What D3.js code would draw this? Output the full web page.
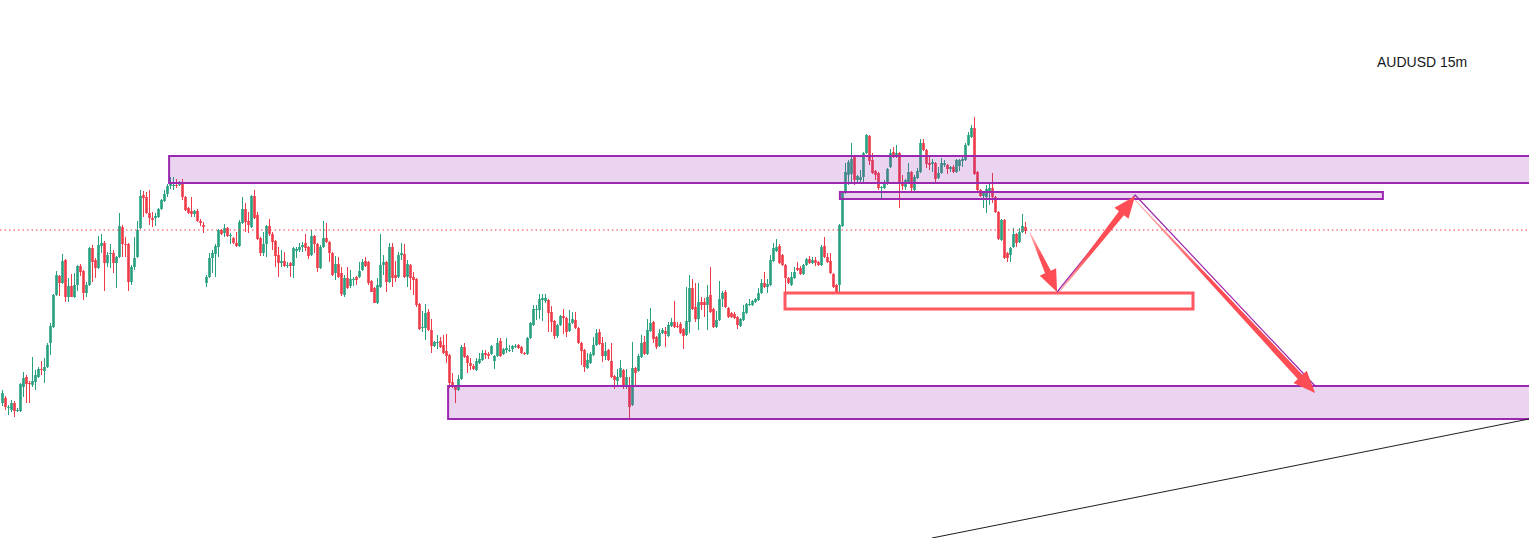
<!DOCTYPE html>
<html>
<head>
<meta charset="utf-8">
<script src="https://cdn.jsdelivr.net/npm/d3@7/dist/d3.min.js"></script>
<style>
html, body { margin: 0; padding: 0; background: #fff; overflow: hidden; }
#chart { width: 1529px; height: 538px; }
</style>
</head>
<body>
<div id="chart"><svg width="1529" height="538"></svg></div>
<script>
var symbolLabel = "AUDUSD 15m";

// AUDUSD 15m candles
var opens = [
0.66597,0.66602,0.66592,0.66590,0.66597,0.66589,0.66589,0.66613,0.66623,0.66617,
0.66615,0.66618,0.66623,0.66631,0.66629,0.66633,0.66657,0.66673,0.66705,0.66724,
0.66717,0.66740,0.66703,0.66714,0.66703,0.66715,0.66734,0.66729,0.66707,0.66715,
0.66752,0.66740,0.66732,0.66754,0.66757,0.66737,0.66746,0.66747,0.66737,0.66743,
0.66773,0.66756,0.66756,0.66718,0.66733,0.66743,0.66772,0.66805,0.66803,0.66787,
0.66782,0.66782,0.66783,0.66791,0.66799,0.66806,0.66814,0.66814,0.66815,0.66815,
0.66818,0.66803,0.66792,0.66789,0.66786,0.66789,0.66779,0.66775,0.66717,0.66723,
0.66742,0.66746,0.66753,0.66770,0.66767,0.66772,0.66764,0.66762,0.66757,0.66754,
0.66777,0.66791,0.66779,0.66773,0.66804,0.66785,0.66762,0.66747,0.66756,0.66774,
0.66766,0.66759,0.66745,0.66737,0.66739,0.66734,0.66737,0.66734,0.66749,0.66750,
0.66753,0.66757,0.66753,0.66745,0.66764,0.66756,0.66732,0.66753,0.66762,0.66758,
0.66747,0.66727,0.66736,0.66727,0.66705,0.66722,0.66714,0.66720,0.66723,0.66723,
0.66730,0.66739,0.66738,0.66719,0.66712,0.66697,0.66713,0.66735,0.66738,0.66718,
0.66753,0.66725,0.66723,0.66745,0.66746,0.66723,0.66735,0.66723,0.66721,0.66696,
0.66672,0.66672,0.66688,0.66670,0.66654,0.66657,0.66659,0.66655,0.66649,0.66645,
0.66618,0.66613,0.66610,0.66621,0.66653,0.66644,0.66637,0.66634,0.66630,0.66637,
0.66640,0.66647,0.66646,0.66646,0.66639,0.66644,0.66659,0.66646,0.66650,0.66649,
0.66651,0.66653,0.66655,0.66653,0.66647,0.66646,0.66662,0.66675,0.66690,0.66690,
0.66700,0.66699,0.66700,0.66688,0.66679,0.66664,0.66675,0.66684,0.66682,0.66669,
0.66677,0.66680,0.66672,0.66657,0.66650,0.66632,0.66637,0.66645,0.66655,0.66668,
0.66657,0.66644,0.66650,0.66639,0.66624,0.66619,0.66623,0.66630,0.66613,0.66615,
0.66595,0.66632,0.66629,0.66643,0.66658,0.66646,0.66669,0.66678,0.66663,0.66654,
0.66667,0.66669,0.66664,0.66674,0.66678,0.66674,0.66676,0.66671,0.66665,0.66678,
0.66712,0.66693,0.66681,0.66698,0.66698,0.66695,0.66705,0.66691,0.66673,0.66680,
0.66701,0.66708,0.66692,0.66687,0.66686,0.66683,0.66674,0.66680,0.66687,0.66695,
0.66695,0.66698,0.66700,0.66707,0.66717,0.66713,0.66715,0.66739,0.66749,0.66754,
0.66745,0.66735,0.66722,0.66715,0.66722,0.66732,0.66732,0.66726,0.66735,0.66741,
0.66737,0.66740,0.66738,0.66735,0.66754,0.66743,0.66739,0.66726,0.66715,0.66715,
0.66774,0.66807,0.66825,0.66826,0.66844,0.66820,0.66820,0.66823,0.66847,0.66864,
0.66840,0.66829,0.66827,0.66812,0.66812,0.66816,0.66833,0.66848,0.66843,0.66847,
0.66818,0.66813,0.66817,0.66828,0.66810,0.66822,0.66828,0.66857,0.66850,0.66837,
0.66836,0.66837,0.66822,0.66827,0.66835,0.66835,0.66831,0.66833,0.66828,0.66834,
0.66839,0.66840,0.66855,0.66863,0.66872,0.66828,0.66810,0.66804,0.66803,0.66807,
0.66812,0.66803,0.66788,0.66760,0.66780,0.66747,0.66745,0.66753,0.66766,0.66758,
0.66768,0.66773
];
var highs = [
0.66610,0.66604,0.66595,0.66600,0.66599,0.66592,0.66617,0.66628,0.66625,0.66619,
0.66643,0.66630,0.66633,0.66639,0.66642,0.66657,0.66677,0.66706,0.66729,0.66725,
0.66746,0.66741,0.66722,0.66726,0.66727,0.66735,0.66736,0.66730,0.66718,0.66753,
0.66755,0.66742,0.66764,0.66766,0.66759,0.66748,0.66756,0.66750,0.66744,0.66787,
0.66775,0.66763,0.66757,0.66735,0.66763,0.66779,0.66810,0.66809,0.66808,0.66810,
0.66788,0.66787,0.66792,0.66801,0.66810,0.66816,0.66823,0.66823,0.66821,0.66819,
0.66821,0.66804,0.66793,0.66803,0.66790,0.66791,0.66781,0.66778,0.66725,0.66747,
0.66750,0.66756,0.66771,0.66771,0.66776,0.66773,0.66767,0.66763,0.66768,0.66780,
0.66803,0.66797,0.66788,0.66805,0.66810,0.66788,0.66763,0.66768,0.66775,0.66781,
0.66768,0.66760,0.66753,0.66750,0.66748,0.66738,0.66738,0.66753,0.66753,0.66757,
0.66758,0.66766,0.66754,0.66770,0.66765,0.66757,0.66755,0.66779,0.66777,0.66759,
0.66748,0.66744,0.66743,0.66733,0.66725,0.66733,0.66730,0.66723,0.66724,0.66738,
0.66741,0.66743,0.66739,0.66720,0.66713,0.66722,0.66766,0.66745,0.66739,0.66757,
0.66757,0.66739,0.66748,0.66757,0.66756,0.66740,0.66736,0.66728,0.66722,0.66697,
0.66689,0.66696,0.66691,0.66681,0.66659,0.66665,0.66663,0.66665,0.66666,0.66646,
0.66627,0.66615,0.66625,0.66655,0.66657,0.66645,0.66642,0.66636,0.66642,0.66647,
0.66650,0.66650,0.66648,0.66655,0.66645,0.66662,0.66662,0.66652,0.66662,0.66655,
0.66655,0.66656,0.66656,0.66654,0.66648,0.66663,0.66678,0.66695,0.66695,0.66706,
0.66706,0.66706,0.66701,0.66694,0.66680,0.66676,0.66685,0.66691,0.66683,0.66690,
0.66688,0.66688,0.66673,0.66658,0.66651,0.66647,0.66648,0.66663,0.66671,0.66671,
0.66663,0.66658,0.66651,0.66657,0.66625,0.66631,0.66640,0.66631,0.66631,0.66623,
0.66658,0.66633,0.66646,0.66665,0.66664,0.66681,0.66692,0.66679,0.66664,0.66671,
0.66672,0.66673,0.66678,0.66682,0.66699,0.66678,0.66678,0.66672,0.66713,0.66725,
0.66721,0.66717,0.66717,0.66703,0.66702,0.66715,0.66733,0.66692,0.66689,0.66719,
0.66709,0.66710,0.66693,0.66688,0.66688,0.66684,0.66682,0.66695,0.66697,0.66701,
0.66700,0.66702,0.66712,0.66721,0.66728,0.66721,0.66745,0.66757,0.66761,0.66756,
0.66746,0.66736,0.66723,0.66728,0.66733,0.66738,0.66734,0.66736,0.66742,0.66744,
0.66743,0.66743,0.66739,0.66755,0.66763,0.66747,0.66747,0.66727,0.66716,0.66776,
0.66808,0.66837,0.66840,0.66857,0.66845,0.66825,0.66830,0.66848,0.66866,0.66865,
0.66847,0.66830,0.66828,0.66814,0.66820,0.66832,0.66851,0.66853,0.66855,0.66848,
0.66825,0.66821,0.66837,0.66829,0.66825,0.66832,0.66861,0.66861,0.66851,0.66843,
0.66841,0.66838,0.66833,0.66842,0.66840,0.66836,0.66834,0.66835,0.66841,0.66841,
0.66843,0.66857,0.66868,0.66875,0.66883,0.66829,0.66811,0.66809,0.66815,0.66816,
0.66827,0.66804,0.66789,0.66781,0.66781,0.66748,0.66753,0.66772,0.66767,0.66772,
0.66786,0.66778
];
var lows = [
0.66594,0.66590,0.66585,0.66588,0.66583,0.66588,0.66588,0.66603,0.66597,0.66597,
0.66613,0.66610,0.66622,0.66625,0.66617,0.66632,0.66645,0.66672,0.66704,0.66704,
0.66716,0.66698,0.66698,0.66703,0.66702,0.66709,0.66724,0.66700,0.66703,0.66714,
0.66718,0.66722,0.66731,0.66747,0.66709,0.66733,0.66732,0.66727,0.66712,0.66742,
0.66743,0.66743,0.66709,0.66715,0.66730,0.66742,0.66771,0.66783,0.66786,0.66775,
0.66773,0.66774,0.66782,0.66790,0.66798,0.66803,0.66811,0.66810,0.66812,0.66814,
0.66800,0.66789,0.66786,0.66783,0.66783,0.66778,0.66774,0.66767,0.66713,0.66722,
0.66727,0.66723,0.66743,0.66765,0.66763,0.66763,0.66756,0.66756,0.66753,0.66753,
0.66776,0.66768,0.66767,0.66772,0.66781,0.66760,0.66744,0.66744,0.66743,0.66764,
0.66750,0.66733,0.66723,0.66733,0.66733,0.66732,0.66723,0.66722,0.66742,0.66748,
0.66748,0.66749,0.66741,0.66744,0.66747,0.66728,0.66731,0.66752,0.66757,0.66738,
0.66724,0.66720,0.66722,0.66704,0.66703,0.66711,0.66712,0.66714,0.66715,0.66722,
0.66729,0.66733,0.66715,0.66708,0.66697,0.66696,0.66712,0.66725,0.66708,0.66717,
0.66713,0.66718,0.66722,0.66740,0.66722,0.66713,0.66710,0.66705,0.66693,0.66670,
0.66668,0.66660,0.66669,0.66647,0.66653,0.66651,0.66652,0.66646,0.66637,0.66612,
0.66612,0.66597,0.66609,0.66620,0.66642,0.66627,0.66630,0.66630,0.66629,0.66636,
0.66639,0.66641,0.66641,0.66645,0.66631,0.66643,0.66643,0.66645,0.66647,0.66648,
0.66648,0.66652,0.66651,0.66646,0.66645,0.66645,0.66661,0.66674,0.66680,0.66681,
0.66679,0.66697,0.66668,0.66668,0.66661,0.66662,0.66674,0.66666,0.66663,0.66668,
0.66676,0.66671,0.66656,0.66635,0.66628,0.66631,0.66636,0.66644,0.66654,0.66655,
0.66638,0.66640,0.66639,0.66622,0.66611,0.66615,0.66622,0.66611,0.66611,0.66581,
0.66594,0.66615,0.66628,0.66642,0.66645,0.66645,0.66668,0.66657,0.66651,0.66653,
0.66666,0.66653,0.66663,0.66673,0.66672,0.66672,0.66666,0.66651,0.66664,0.66667,
0.66690,0.66678,0.66670,0.66690,0.66683,0.66670,0.66687,0.66672,0.66672,0.66679,
0.66693,0.66692,0.66682,0.66682,0.66681,0.66671,0.66673,0.66679,0.66686,0.66694,
0.66694,0.66697,0.66699,0.66706,0.66712,0.66707,0.66714,0.66738,0.66748,0.66736,
0.66734,0.66708,0.66716,0.66714,0.66721,0.66729,0.66725,0.66725,0.66734,0.66736,
0.66736,0.66734,0.66734,0.66734,0.66742,0.66737,0.66726,0.66712,0.66707,0.66708,
0.66773,0.66806,0.66815,0.66817,0.66815,0.66817,0.66817,0.66817,0.66846,0.66835,
0.66826,0.66820,0.66810,0.66800,0.66811,0.66815,0.66832,0.66842,0.66842,0.66792,
0.66810,0.66810,0.66816,0.66808,0.66809,0.66821,0.66827,0.66849,0.66832,0.66830,
0.66828,0.66817,0.66821,0.66826,0.66833,0.66826,0.66828,0.66827,0.66827,0.66829,
0.66833,0.66839,0.66854,0.66862,0.66825,0.66807,0.66803,0.66792,0.66787,0.66795,
0.66797,0.66787,0.66760,0.66759,0.66741,0.66738,0.66738,0.66752,0.66753,0.66757,
0.66767,0.66766
];
var closes = [
0.66607,0.66593,0.66593,0.66597,0.66589,0.66590,0.66616,0.66622,0.66616,0.66616,
0.66619,0.66625,0.66631,0.66630,0.66633,0.66655,0.66674,0.66705,0.66725,0.66717,
0.66739,0.66703,0.66714,0.66703,0.66715,0.66734,0.66728,0.66707,0.66715,0.66752,
0.66738,0.66732,0.66755,0.66757,0.66737,0.66745,0.66747,0.66737,0.66743,0.66774,
0.66756,0.66755,0.66718,0.66733,0.66742,0.66770,0.66804,0.66802,0.66787,0.66782,
0.66780,0.66784,0.66791,0.66800,0.66806,0.66814,0.66816,0.66815,0.66814,0.66817,
0.66803,0.66790,0.66787,0.66786,0.66789,0.66779,0.66777,0.66773,0.66723,0.66742,
0.66747,0.66754,0.66770,0.66766,0.66772,0.66764,0.66765,0.66757,0.66754,0.66778,
0.66791,0.66778,0.66775,0.66804,0.66782,0.66761,0.66747,0.66756,0.66774,0.66766,
0.66758,0.66744,0.66737,0.66739,0.66734,0.66735,0.66734,0.66752,0.66751,0.66753,
0.66755,0.66752,0.66744,0.66764,0.66756,0.66732,0.66753,0.66762,0.66758,0.66747,
0.66725,0.66736,0.66723,0.66706,0.66722,0.66712,0.66721,0.66721,0.66720,0.66729,
0.66738,0.66734,0.66717,0.66708,0.66697,0.66715,0.66735,0.66738,0.66718,0.66753,
0.66722,0.66722,0.66745,0.66747,0.66723,0.66736,0.66722,0.66720,0.66695,0.66671,
0.66673,0.66687,0.66670,0.66654,0.66658,0.66658,0.66653,0.66647,0.66644,0.66617,
0.66613,0.66610,0.66621,0.66653,0.66643,0.66637,0.66634,0.66631,0.66639,0.66641,
0.66647,0.66645,0.66644,0.66654,0.66644,0.66657,0.66644,0.66651,0.66652,0.66650,
0.66654,0.66654,0.66652,0.66647,0.66646,0.66662,0.66677,0.66691,0.66691,0.66701,
0.66702,0.66702,0.66687,0.66678,0.66664,0.66675,0.66684,0.66682,0.66668,0.66677,
0.66681,0.66672,0.66657,0.66649,0.66633,0.66640,0.66646,0.66655,0.66667,0.66656,
0.66644,0.66649,0.66640,0.66623,0.66620,0.66623,0.66632,0.66613,0.66623,0.66593,
0.66632,0.66627,0.66644,0.66657,0.66646,0.66670,0.66677,0.66661,0.66653,0.66667,
0.66670,0.66666,0.66675,0.66678,0.66673,0.66673,0.66667,0.66664,0.66679,0.66712,
0.66691,0.66681,0.66698,0.66695,0.66695,0.66703,0.66688,0.66673,0.66680,0.66701,
0.66707,0.66693,0.66683,0.66683,0.66682,0.66675,0.66681,0.66688,0.66696,0.66696,
0.66699,0.66701,0.66707,0.66717,0.66713,0.66716,0.66740,0.66752,0.66753,0.66737,
0.66735,0.66722,0.66717,0.66723,0.66728,0.66730,0.66726,0.66735,0.66741,0.66737,
0.66740,0.66737,0.66735,0.66753,0.66743,0.66738,0.66727,0.66713,0.66708,0.66775,
0.66807,0.66828,0.66838,0.66841,0.66820,0.66824,0.66823,0.66847,0.66865,0.66839,
0.66827,0.66825,0.66812,0.66813,0.66817,0.66831,0.66847,0.66843,0.66847,0.66817,
0.66814,0.66820,0.66828,0.66812,0.66823,0.66829,0.66857,0.66850,0.66836,0.66835,
0.66838,0.66821,0.66827,0.66837,0.66837,0.66831,0.66833,0.66828,0.66840,0.66840,
0.66841,0.66855,0.66865,0.66872,0.66826,0.66810,0.66804,0.66808,0.66811,0.66812,
0.66803,0.66788,0.66761,0.66780,0.66742,0.66742,0.66752,0.66766,0.66757,0.66768,
0.66774,0.66769
];

// drawings: bar index (can run past the last bar) and price
var lastPrice = 0.66770;
var zoneStarts = [55.7, 148.7, 279.3];
var zoneEnds = [null, null, 460.3];
var zoneTops = [0.66844, 0.66614, 0.66808];
var zoneBottoms = [0.66817, 0.66581, 0.66801];
var targetBox = [261, 397, 0.66707, 0.66691];
var arrowFrom = [[342.7, 0.66767], [352.4, 0.66708], [377.7, 0.66800]];
var arrowTo = [[351.7, 0.66708], [377.7, 0.66804], [437.7, 0.66607]];
var pathPoints = [[351.7, 0.66708], [377.7, 0.66805], [437.7, 0.66614]];
var trendLine = [[310, 0.66462], [509, 0.66581]];

var CandleChart = (function () {
    function CandleChart(target) {
        this.svg = d3.select(target);
        this.width = +this.svg.attr("width");
        this.height = +this.svg.attr("height");
        this.x = d3.scaleLinear().domain([0, 341]).range([2, 1025]);
        this.y = d3.scaleLinear().domain([0.66462, 0.67]).range([this.height, 0]);
    }
    CandleChart.prototype.render = function () {
        var chart = this, x = this.x, y = this.y, svg = this.svg;
        svg.append("rect").attr("width", chart.width).attr("height", chart.height).style("fill", "#fff");

        var up = "#26a07f", down = "#ef3a47";
        var candles = svg.append("g").selectAll("g").data(d3.range(closes.length)).join("g");
        candles.append("line")
            .attr("x1", function (i) { return Math.round(x(i)) + 0.5; })
            .attr("x2", function (i) { return Math.round(x(i)) + 0.5; })
            .attr("y1", function (i) { return y(highs[i]); })
            .attr("y2", function (i) { return y(lows[i]); })
            .style("stroke", function (i) { return closes[i] >= opens[i] ? up : down; })
            .style("stroke-width", 1);
        candles.append("rect")
            .attr("x", function (i) { return Math.round(x(i)) - 0.8; })
            .attr("width", 2.6)
            .attr("y", function (i) { return y(Math.max(opens[i], closes[i])); })
            .attr("height", function (i) { return Math.max(1, Math.abs(y(opens[i]) - y(closes[i]))); })
            .style("fill", function (i) { return closes[i] >= opens[i] ? up : down; });

        // last price
        svg.append("line").attr("x1", 0).attr("x2", chart.width)
            .attr("y1", y(lastPrice)).attr("y2", y(lastPrice))
            .style("stroke", "#f23645").style("stroke-width", 1).style("stroke-dasharray", "1.5,3");

        // supply / demand zones
        zoneStarts.forEach(function (s, k) {
            var x0 = x(s), x1 = zoneEnds[k] == null ? chart.width + 2 : x(zoneEnds[k]);
            svg.append("rect")
                .attr("x", x0).attr("y", y(zoneTops[k]))
                .attr("width", x1 - x0).attr("height", y(zoneBottoms[k]) - y(zoneTops[k]))
                .style("fill", "rgba(156,39,176,0.2)")
                .style("stroke", "#9c27b0").style("stroke-width", 2);
        });

        svg.append("rect")
            .attr("x", x(targetBox[0])).attr("y", y(targetBox[2]))
            .attr("width", x(targetBox[1]) - x(targetBox[0]))
            .attr("height", y(targetBox[3]) - y(targetBox[2]))
            .style("fill", "none").style("stroke", "#ff4f57").style("stroke-width", 3)
            .style("stroke-opacity", 0.95);

        svg.append("path")
            .attr("d", d3.line().x(function (p) { return x(p[0]); }).y(function (p) { return y(p[1]); })(pathPoints))
            .style("fill", "none").style("stroke", "#9c27b0").style("stroke-width", 1.2);

        svg.append("line")
            .attr("x1", x(trendLine[0][0])).attr("y1", y(trendLine[0][1]))
            .attr("x2", x(trendLine[1][0])).attr("y2", y(trendLine[1][1]))
            .style("stroke", "#1e1e1e").style("stroke-width", 1);

        var defs = svg.append("defs");
        arrowFrom.forEach(function (a, k) {
            var x0 = x(a[0]), y0 = y(a[1]), x1 = x(arrowTo[k][0]), y1 = y(arrowTo[k][1]);
            var dx = x1 - x0, dy = y1 - y0, len = Math.sqrt(dx * dx + dy * dy);
            var ux = dx / len, uy = dy / len, nx = -uy, ny = ux;
            var hl = 22, hw = 9, sw = 3.2, tw = 0.5;
            var bx = x1 - ux * hl, by = y1 - uy * hl;
            var pts = [
                [x0 + nx * tw, y0 + ny * tw], [bx + nx * sw, by + ny * sw], [bx + nx * hw, by + ny * hw],
                [x1, y1],
                [bx - nx * hw, by - ny * hw], [bx - nx * sw, by - ny * sw], [x0 - nx * tw, y0 - ny * tw]
            ];
            var g = defs.append("linearGradient").attr("id", "ag" + k)
                .attr("gradientUnits", "userSpaceOnUse")
                .attr("x1", x0).attr("y1", y0).attr("x2", x1).attr("y2", y1);
            g.append("stop").attr("offset", 0).attr("stop-color", "#ff5258").attr("stop-opacity", 0.4);
            g.append("stop").attr("offset", 0.4).attr("stop-color", "#ff4d55").attr("stop-opacity", 1);
            svg.append("polygon")
                .attr("points", pts.map(function (p) { return p.join(","); }).join(" "))
                .style("fill", "url(#ag" + k + ")");
        });

        svg.append("text").text(symbolLabel)
            .attr("x", 1377).attr("y", 67)
            .attr("font-family", "'Liberation Sans', Arial, sans-serif")
            .attr("font-size", "14px").style("fill", "#131722");
    };
    return CandleChart;
})();

new CandleChart("#chart svg").render();
</script>
</body>
</html>
